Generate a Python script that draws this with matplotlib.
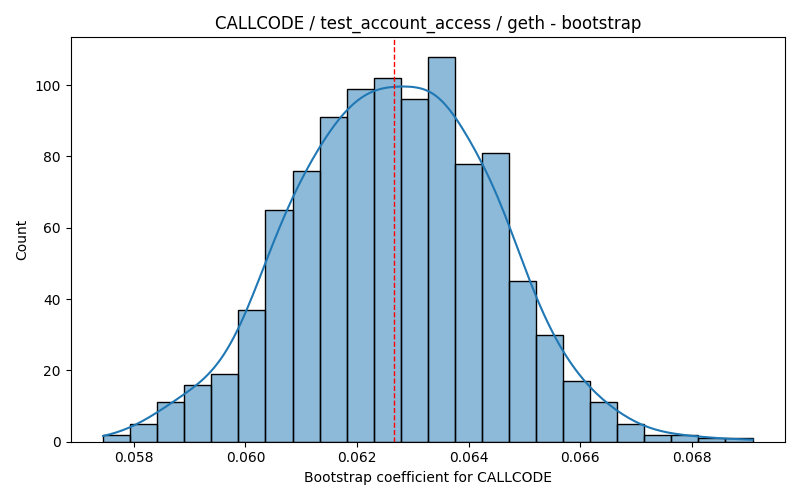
import numpy as np
import matplotlib
matplotlib.use("Agg")
import matplotlib.pyplot as plt
import seaborn as sns

# --- Bootstrap histogram (1000 resamples, 24 bins) ---
coef_min = 0.05745
coef_max = 0.06909
bin_counts = [2, 5, 11, 16, 19, 37, 65, 76, 91, 99, 102, 96,
              108, 78, 81, 45, 30, 17, 11, 5, 2, 2, 1, 1]
coef_mean = 0.06266

title = "CALLCODE / test_account_access / geth - bootstrap"
xlabel = "Bootstrap coefficient for CALLCODE"

# rebuild a sample from the bin counts so seaborn can do bars + kde itself
edges = np.linspace(coef_min, coef_max, len(bin_counts) + 1)
centers = (edges[:-1] + edges[1:]) / 2
samples = np.repeat(centers, bin_counts)
samples[0] = coef_min      # bins span the data range exactly
samples[-1] = coef_max

fig, ax = plt.subplots(figsize=(8, 5), dpi=100)
sns.histplot(samples, bins=edges, kde=True, kde_kws={'bw_adjust': 1.1}, ax=ax)
ax.axvline(coef_mean, color='red', linestyle='--', linewidth=1)
ax.set_title(title)
ax.set_xlabel(xlabel)
ax.set_ylabel("Count")
plt.tight_layout()
plt.savefig("out.png")
